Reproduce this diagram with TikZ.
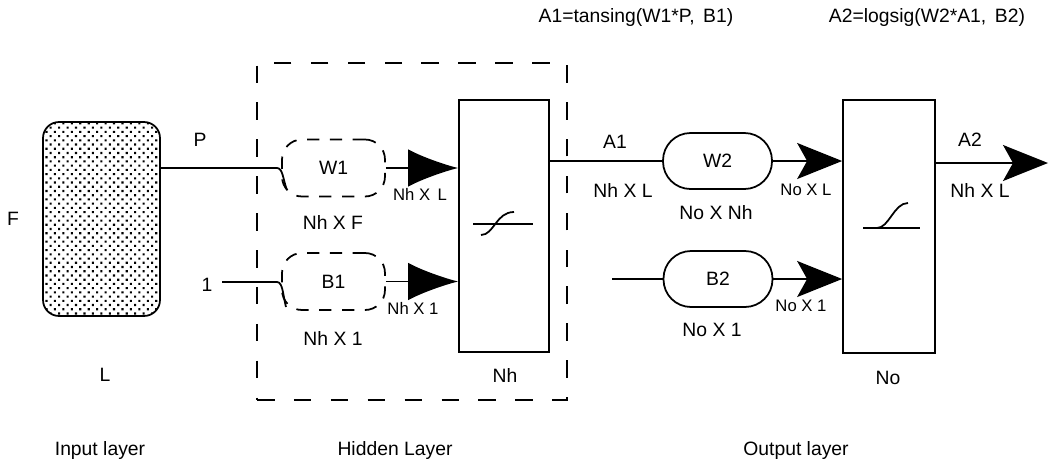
\documentclass[tikz,border=0pt]{standalone}
\usepackage{fontspec}
\setmainfont{Liberation Sans}
\usetikzlibrary{arrows.meta,patterns.meta}
\begin{document}
\begin{tikzpicture}[x=0.02cm,y=-0.02cm,
 line width=1pt,
 lbl/.style={inner sep=0pt,font=\fontsize{11}{13}\selectfont},
 sml/.style={inner sep=0pt,font=\fontsize{9.5}{11}\selectfont},
 dbox/.style={draw,dash pattern=on 7pt off 6pt,rounded corners=0.4cm,minimum width=2.06cm,minimum height=1.14cm,inner sep=0pt,font=\fontsize{11}{13}\selectfont},
 sbox/.style={draw,rounded corners=0.55cm,minimum width=2.18cm,minimum height=1.12cm,inner sep=0pt,font=\fontsize{11}{13}\selectfont},
 layer/.style={draw,minimum width=1.8cm,minimum height=5.04cm,inner sep=0pt},
 bigarrow/.style={-{Latex[length=1cm,width=0.75cm]}},
 outarrow/.style={-{Stealth[length=0.9cm,width=0.72cm,inset=0.2cm]}},
]
\useasboundingbox (0,0) rectangle (1049,474);

% input layer
\node[draw,rounded corners=0.32cm,pattern={Dots[distance=3.4pt,radius=0.85pt,angle=45]},minimum width=2.34cm,minimum height=3.88cm,inner sep=0pt] (inp) at (101.5,219) {};
\node[lbl] (F) at (13,219) {F};
\node[lbl] (L) at (105,375) {L};
\node[lbl] (P) at (200,140) {P};
\node[lbl] (one) at (207,285) {1};

% hidden layer
\node[draw,dash pattern=on 10pt off 11pt,minimum width=6.2cm,minimum height=6.74cm,inner sep=0pt] (hid) at (412,231.5) {};
\node[dbox] (W1) at (333.5,168) {W1};
\node[dbox] (B1) at (333.5,281.5) {B1};
\node[lbl] (nhf) at (333,222) {Nh X F};
\node[lbl] (nh1) at (333,338) {Nh X 1};
\node[layer] (sig) at (504,226) {};
\node[lbl] (nh) at (505,375) {Nh};
\node[sml] (nhl) at (420,194) {Nh X\, L};
\node[sml] (nh1s) at (413,308) {Nh X 1};

\coordinate (pbend) at (277,168);
\coordinate (pend) at (287,190);
\coordinate (obend) at (277,282);
\coordinate (oend) at (286,307);
\coordinate (ostart) at (222,282);
\draw (inp.east |- pbend) -- (pbend) .. controls (283,168) and (283,180) .. (pend);
\draw (ostart) -- (obend) .. controls (283,282) and (283,296) .. (oend);

\draw[bigarrow] (W1.east) -- (sig.west |- W1.east);
\draw[bigarrow] (B1.east) -- (sig.west |- B1.east);

% tansig symbol
\draw (473,224) -- (533,224);
\draw (481,235) .. controls (494,235) and (496,212) .. (514,212);

% output layer
\node[sbox] (W2) at (717.5,161) {W2};
\node[sbox] (B2) at (718,279) {B2};
\node[layer,minimum width=1.84cm,minimum height=5.06cm] (out) at (889,226.5) {};
\node[lbl] (no) at (888,378) {No};
\node[lbl] (A1) at (615,142) {A1};
\node[lbl] (nhl2) at (623,190) {Nh X L};
\node[lbl] (nonh) at (716,213) {No X Nh};
\node[lbl] (no1) at (712,330) {No X 1};
\node[sml] (nol) at (806,190) {No X L};
\node[sml] (no1s) at (801,306) {No X 1};
\node[lbl] (A2) at (970,140) {A2};
\node[lbl] (nhl3) at (980,190) {Nh X L};

\coordinate (b2in) at (612,279);
\coordinate (aout) at (1048,163);

\draw (sig.east |- W2.west) -- (W2.west);
\draw (b2in) -- (B2.west);
\draw[outarrow] (W2.east) -- (out.west |- W2.east);
\draw[outarrow] (B2.east) -- (out.west |- B2.east);
\draw[outarrow] (out.east |- aout) -- (aout);

% logsig symbol
\draw (863,228) -- (920,228);
\draw (877,228) .. controls (889,228) and (894,203) .. (908,203);

% equations
\node[lbl] (eq1) at (636,18) {A1=tansing(W1*P,\, B1)};
\node[lbl] (eq2) at (927,18) {A2=logsig(W2*A1,\, B2)};

% layer titles
\node[lbl] (tin) at (100,450) {Input layer};
\node[lbl] (thid) at (395,450) {Hidden Layer};
\node[lbl] (tout) at (796,450) {Output layer};
\end{tikzpicture}
\end{document}
